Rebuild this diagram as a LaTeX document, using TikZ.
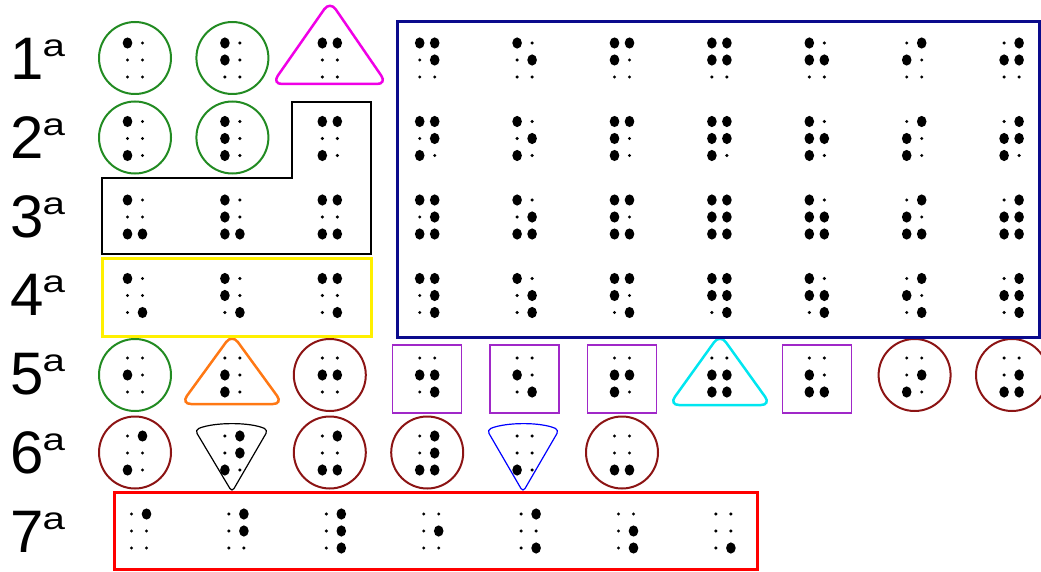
\documentclass[tikz,border=0pt]{standalone}
\usepackage{fontspec}
\setmainfont{Liberation Sans}

\definecolor{ringgreen}{RGB}{34,139,34}
\definecolor{ringred}{RGB}{140,20,20}
\definecolor{boxnavy}{RGB}{10,10,140}
\definecolor{boxpurple}{RGB}{160,40,200}
\definecolor{boxyellow}{RGB}{255,240,0}
\definecolor{trimagenta}{RGB}{240,0,230}
\definecolor{triorange}{RGB}{255,120,20}
\definecolor{tricyan}{RGB}{0,230,240}

% one braille cell: x, y of the centre, raised dots
\newcommand{\brcell}[3]{%
  \edef\brlist{#3}%
  \foreach \d in {1,...,6}
    \fill ({#1+(\d>3)*15-7.5},{#2+(mod(\d-1,3)-1)*17}) circle (1.7pt);
  \foreach \d in \brlist
    \fill ({#1+(\d>3)*15-7.5},{#2+(mod(\d-1,3)-1)*17}) ellipse (4.8pt and 5.6pt);
}
\newcommand{\ord}{\kern-1pt\raisebox{23pt}{\scalebox{1.3}[1]{\fontsize{31}{31}\selectfont a}}}

\begin{document}
\begin{tikzpicture}[
    x=1pt, y=-1pt,
    rowlab/.style={anchor=base west, inner sep=0pt, font=\fontsize{60}{60}\selectfont},
    ring/.style={line width=2pt},
    tri/.style={line width=2.5pt, rounded corners=10pt},
    frame/.style={line width=3pt}
]
    \useasboundingbox (0,0) rectangle (1041,572);

    % Row labels
    \node[rowlab] (r1) at (10,80) {1\ord};
    \node[rowlab] (r2) at (10,158.5) {2\ord};
    \node[rowlab] (r3) at (10,237) {3\ord};
    \node[rowlab] (r4) at (10,315.5) {4\ord};
    \node[rowlab] (r5) at (10,394) {5\ord};
    \node[rowlab] (r6) at (10,473) {6\ord};
    \node[rowlab] (r7) at (10,552) {7\ord};

    % Cells, one row at a time
    \foreach \pts [count=\i] in {{1},{1,2},{1,4},{1,4,5},{1,5},{1,2,4},{1,2,4,5},{1,2,5},{2,4},{2,4,5}}
      \brcell{135+97.4*(\i-1)}{60}{\pts};
    \foreach \pts [count=\i] in {{1,3},{1,2,3},{1,3,4},{1,3,4,5},{1,3,5},{1,2,3,4},{1,2,3,4,5},{1,2,3,5},{2,3,4},{2,3,4,5}}
      \brcell{135+97.4*(\i-1)}{138.5}{\pts};
    \foreach \pts [count=\i] in {{1,3,6},{1,2,3,6},{1,3,4,6},{1,3,4,5,6},{1,3,5,6},{1,2,3,4,6},{1,2,3,4,5,6},{1,2,3,5,6},{2,3,4,6},{2,3,4,5,6}}
      \brcell{135+97.4*(\i-1)}{217}{\pts};
    \foreach \pts [count=\i] in {{1,6},{1,2,6},{1,4,6},{1,4,5,6},{1,5,6},{1,2,4,6},{1,2,4,5,6},{1,2,5,6},{2,4,6},{2,4,5,6}}
      \brcell{135+97.4*(\i-1)}{295.5}{\pts};
    \foreach \pts [count=\i] in {{2},{2,3},{2,5},{2,5,6},{2,6},{2,3,5},{2,3,5,6},{2,3,6},{3,5},{3,5,6}}
      \brcell{135+97.4*(\i-1)}{375}{\pts};
    \foreach \pts [count=\i] in {{3,4},{3,4,5},{3,4,6},{3,4,5,6},{3},{3,6}}
      \brcell{135+97.4*(\i-1)}{453}{\pts};
    \foreach \pts [count=\i] in {{4},{4,5},{4,5,6},{5},{4,6},{5,6},{6}}
      \brcell{139+97.4*(\i-1)}{531}{\pts};

    % Green circles
    \foreach \x/\y in {135/58, 232.4/58, 135/137.5, 232.4/137.5, 135/375}
      \draw[ring, ringgreen] (\x,\y) circle (36pt);
    % Dark red circles
    \foreach \x/\y in {329.8/375, 914.6/375, 1012/375, 135/452.5, 329.8/452.5, 427.2/452.5, 622/452.5}
      \draw[ring, ringred] (\x,\y) circle (36pt);
    % Purple squares
    \foreach \x in {427.2, 524.6, 622, 816.8}
      \draw[boxpurple, line width=1.5pt] (\x-34.5,345) rectangle (\x+34.5,413);

    % Triangles
    \draw[tri, trimagenta] (330,1) -- (387,84) -- (272,84) -- cycle;
    \draw[tri, triorange] (232,334) -- (283,404) -- (181,404) -- cycle;
    \draw[tri, tricyan] (720,334) -- (771,405) -- (669,405) -- cycle;
    \draw[line width=1.2pt, rounded corners=4pt] (232,492) -- (195,430) .. controls (214,422) and (250,422) .. (268,430) -- cycle;
    \draw[blue, line width=1.2pt, rounded corners=4pt] (523,492) -- (487,430) .. controls (506,422) and (541,422) .. (559,430) -- cycle;

    % Frames
    \draw[line width=2pt] (292,102) -- (371,102) -- (371,254) -- (102,254) -- (102,178) -- (292,178) -- cycle;
    \draw[frame, boxyellow] (102,258) rectangle (371,336);
    \draw[frame, boxnavy] (397,22) rectangle (1039,337);
    \draw[frame, red] (114,492) rectangle (757,569);
\end{tikzpicture}
\end{document}
